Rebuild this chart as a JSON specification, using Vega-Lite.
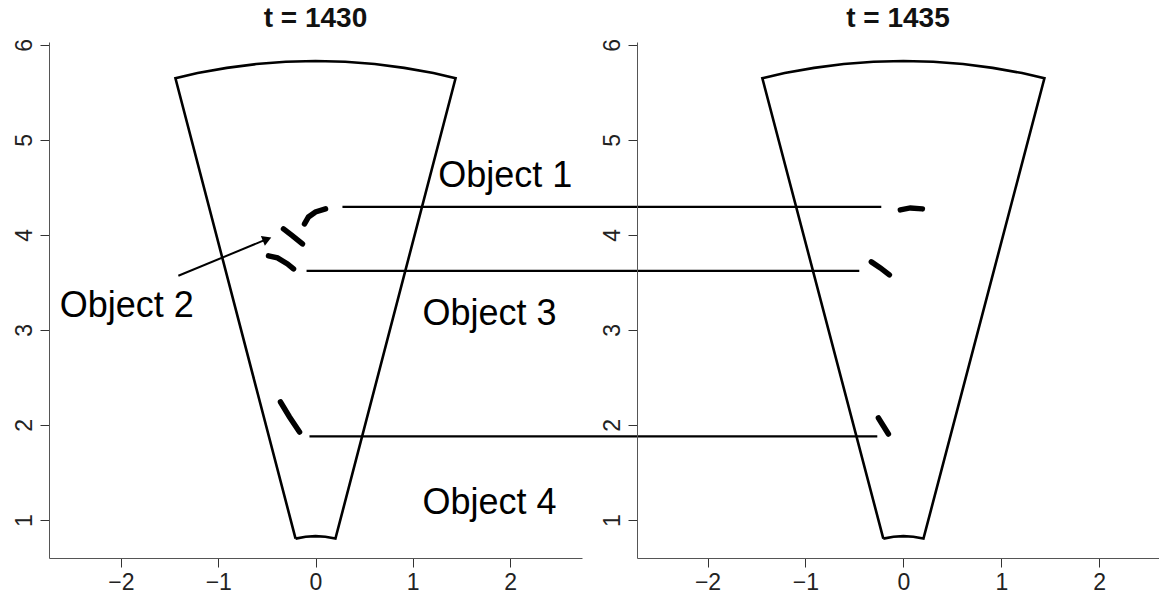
{
  "$schema": "https://vega.github.io/schema/vega-lite/v6.json",
  "background": "white",
  "padding": {"left": 13, "top": 5, "right": 0, "bottom": 0},
  "config": {
    "view": {"stroke": null},
    "font": "Liberation Sans",
    "axis": {
      "labelFont": "Liberation Sans",
      "labelFontSize": 23,
      "labelColor": "#222",
      "tickColor": "#333",
      "tickSize": 9,
      "domainColor": "#555",
      "grid": false,
      "title": null,
      "labelPadding": 4,
      "format": "d"
    },
    "title": {"font": "Liberation Sans", "fontSize": 28, "fontWeight": "bold", "color": "#111", "offset": 5}
  },
  "datasets": {
    "sector": [
      {"i": 1, "x": -0.205, "y": 0.804},
      {"i": 2, "x": -1.44, "y": 5.649},
      {"i": 3, "x": -1.212, "y": 5.703},
      {"i": 4, "x": -0.912, "y": 5.758},
      {"i": 5, "x": -0.609, "y": 5.798},
      {"i": 6, "x": -0.305, "y": 5.822},
      {"i": 7, "x": 0.0, "y": 5.83},
      {"i": 8, "x": 0.305, "y": 5.822},
      {"i": 9, "x": 0.609, "y": 5.798},
      {"i": 10, "x": 0.912, "y": 5.758},
      {"i": 11, "x": 1.212, "y": 5.703},
      {"i": 12, "x": 1.44, "y": 5.649},
      {"i": 13, "x": 0.205, "y": 0.804},
      {"i": 14, "x": 0.101, "y": 0.824},
      {"i": 15, "x": 0.0, "y": 0.83},
      {"i": 16, "x": -0.101, "y": 0.824},
      {"i": 17, "x": -0.205, "y": 0.804}
    ],
    "objects1430": [
      {"obj": "1", "i": 1, "x": -0.113, "y": 4.116},
      {"obj": "1", "i": 2, "x": -0.072, "y": 4.189},
      {"obj": "1", "i": 3, "x": 0.0, "y": 4.242},
      {"obj": "1", "i": 4, "x": 0.103, "y": 4.274},
      {"obj": "2", "i": 1, "x": -0.329, "y": 4.063},
      {"obj": "2", "i": 2, "x": -0.236, "y": 3.99},
      {"obj": "2", "i": 3, "x": -0.134, "y": 3.905},
      {"obj": "3", "i": 1, "x": -0.483, "y": 3.779},
      {"obj": "3", "i": 2, "x": -0.391, "y": 3.758},
      {"obj": "3", "i": 3, "x": -0.288, "y": 3.695},
      {"obj": "3", "i": 4, "x": -0.226, "y": 3.642},
      {"obj": "4", "i": 1, "x": -0.36, "y": 2.242},
      {"obj": "4", "i": 2, "x": -0.267, "y": 2.084},
      {"obj": "4", "i": 3, "x": -0.164, "y": 1.926}
    ],
    "objects1435": [
      {"obj": "1", "i": 1, "x": -0.031, "y": 4.263},
      {"obj": "1", "i": 2, "x": 0.071, "y": 4.284},
      {"obj": "1", "i": 3, "x": 0.194, "y": 4.274},
      {"obj": "3", "i": 1, "x": -0.327, "y": 3.716},
      {"obj": "3", "i": 2, "x": -0.235, "y": 3.653},
      {"obj": "3", "i": 3, "x": -0.143, "y": 3.579},
      {"obj": "4", "i": 1, "x": -0.255, "y": 2.074},
      {"obj": "4", "i": 2, "x": -0.204, "y": 1.989},
      {"obj": "4", "i": 3, "x": -0.153, "y": 1.905}
    ],
    "links": [
      {"obj": "Object 1", "x": 0.277, "x2": 5.817, "y": 4.295},
      {"obj": "Object 3", "x": -0.092, "x2": 5.591, "y": 3.621},
      {"obj": "Object 4", "x": -0.062, "x2": 5.776, "y": 1.879}
    ],
    "labels": [
      {"label": "Object 1", "x": 1.95, "y": 4.505},
      {"label": "Object 2", "x": -1.94, "y": 3.137},
      {"label": "Object 3", "x": 1.79, "y": 3.05},
      {"label": "Object 4", "x": 1.79, "y": 1.06}
    ],
    "arrow": [
      {"i": 1, "x": -1.41, "y": 3.57},
      {"i": 2, "x": -0.5, "y": 3.955}
    ],
    "arrowhead": [
      {"x": -0.498, "y": 3.955}
    ]
  },
  "hconcat": [
    {
      "title": {"text": "t = 1430", "fontSize": 28, "fontWeight": "bold", "font": "Liberation Sans", "offset": 5},
      "width": 533,
      "height": 516,
      "layer": [
        {
          "data": {"name": "sector"},
          "mark": {"type": "line", "color": "#000", "strokeWidth": 2.6, "strokeJoin": "miter"},
          "encoding": {
            "x": {"field": "x", "type": "quantitative", "scale": {"domain": [-2.74, 2.74], "nice": false, "zero": false}, "axis": {"values": [-2, -1, 0, 1, 2], "format": "d", "labelFontSize": 23}},
            "y": {"field": "y", "type": "quantitative", "scale": {"domain": [0.6, 6.03], "nice": false, "zero": false}, "axis": {"values": [1, 2, 3, 4, 5, 6], "format": "d", "labelFontSize": 23, "labelAngle": -90}},
            "order": {"field": "i", "type": "quantitative"}
          }
        },
        {
          "mark": {"type": "rule", "color": "#555", "strokeWidth": 1},
          "encoding": {"y": {"datum": 6.03}}
        },
        {
          "mark": {"type": "rule", "color": "#555", "strokeWidth": 1},
          "encoding": {"x": {"datum": 2.74}}
        },
        {
          "data": {"name": "objects1430"},
          "mark": {"type": "line", "color": "#000", "strokeWidth": 5.5, "strokeCap": "round"},
          "encoding": {
            "x": {"field": "x", "type": "quantitative"},
            "y": {"field": "y", "type": "quantitative"},
            "detail": {"field": "obj"},
            "order": {"field": "i", "type": "quantitative"}
          }
        },
        {
          "data": {"name": "links"},
          "mark": {"type": "rule", "color": "#000", "strokeWidth": 2.2, "clip": false},
          "encoding": {
            "x": {"field": "x", "type": "quantitative"},
            "x2": {"field": "x2"},
            "y": {"field": "y", "type": "quantitative"}
          }
        },
        {
          "data": {"name": "arrow"},
          "mark": {"type": "line", "color": "#000", "strokeWidth": 2},
          "encoding": {
            "x": {"field": "x", "type": "quantitative"},
            "y": {"field": "y", "type": "quantitative"},
            "order": {"field": "i", "type": "quantitative"}
          }
        },
        {
          "data": {"name": "arrowhead"},
          "mark": {"type": "point", "shape": "triangle-up", "filled": true, "color": "#000", "size": 110, "angle": 67.5, "opacity": 1},
          "encoding": {
            "x": {"field": "x", "type": "quantitative"},
            "y": {"field": "y", "type": "quantitative"}
          }
        },
        {
          "data": {"name": "labels"},
          "mark": {"type": "text", "font": "Liberation Sans", "fontSize": 36, "color": "#000", "align": "center", "baseline": "alphabetic"},
          "encoding": {
            "x": {"field": "x", "type": "quantitative"},
            "y": {"field": "y", "type": "quantitative"},
            "text": {"field": "label"}
          }
        }
      ]
    },
    {
      "title": {"text": "t = 1435", "fontSize": 28, "fontWeight": "bold", "font": "Liberation Sans", "offset": 5},
      "width": 522,
      "height": 516,
      "layer": [
        {
          "data": {"name": "sector"},
          "mark": {"type": "line", "color": "#000", "strokeWidth": 2.6, "strokeJoin": "miter"},
          "encoding": {
            "x": {"field": "x", "type": "quantitative", "scale": {"domain": [-2.72, 2.61], "nice": false, "zero": false}, "axis": {"values": [-2, -1, 0, 1, 2], "format": "d", "labelFontSize": 23}},
            "y": {"field": "y", "type": "quantitative", "scale": {"domain": [0.6, 6.03], "nice": false, "zero": false}, "axis": {"values": [1, 2, 3, 4, 5, 6], "format": "d", "labelFontSize": 23, "labelAngle": -90}},
            "order": {"field": "i", "type": "quantitative"}
          }
        },
        {
          "mark": {"type": "rule", "color": "#555", "strokeWidth": 1},
          "encoding": {"y": {"datum": 6.03}}
        },
        {
          "data": {"name": "objects1435"},
          "mark": {"type": "line", "color": "#000", "strokeWidth": 5.5, "strokeCap": "round"},
          "encoding": {
            "x": {"field": "x", "type": "quantitative"},
            "y": {"field": "y", "type": "quantitative"},
            "detail": {"field": "obj"},
            "order": {"field": "i", "type": "quantitative"}
          }
        }
      ]
    }
  ],
  "spacing": 55,
  "bounds": "flush"
}
